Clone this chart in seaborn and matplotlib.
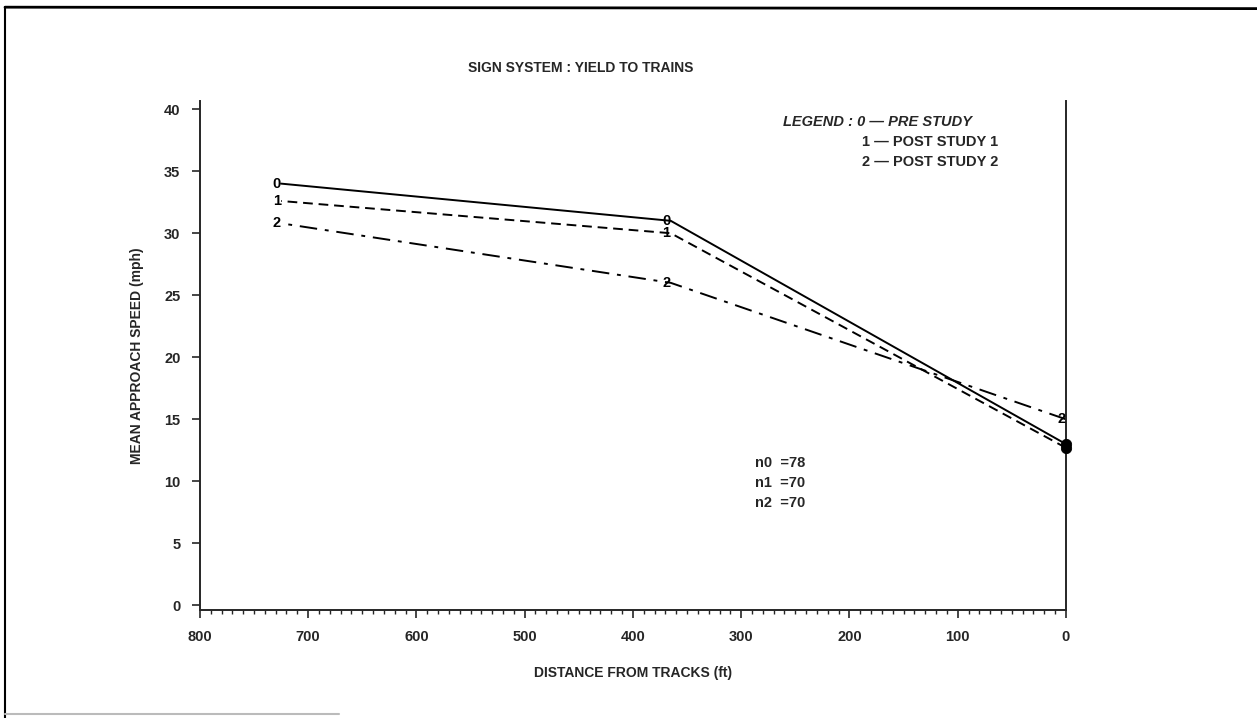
import numpy as np
import pandas as pd
import matplotlib
matplotlib.use("Agg")
import matplotlib.pyplot as plt
from matplotlib.lines import Line2D
from matplotlib.ticker import MultipleLocator
import seaborn as sns

# values
distance = [725, 365, 0]
pre_study = [34.0, 31.0, 13.0]
post_study_1 = [32.6, 30.0, 12.7]
post_study_2 = [30.8, 26.0, 15.0]
group_codes = ['0', '1', '2']
legend_names = ['PRE STUDY', 'POST STUDY 1', 'POST STUDY 2']
sample_sizes = [78, 70, 70]

series = [pre_study, post_study_1, post_study_2]
df = pd.concat([
    pd.DataFrame({'distance': distance, 'speed': vals, 'group': code})
    for code, vals in zip(group_codes, series)
])

sns.set_style("ticks")
plt.rcParams['font.family'] = ['Liberation Sans', 'DejaVu Sans']
plt.rcParams['font.weight'] = 'bold'

fig = plt.figure(figsize=(12.57, 7.18), dpi=100)
ax = fig.add_axes([0.159, 0.150, 0.689, 0.710])

dashes = {'0': '', '1': (5, 3), '2': (9, 4, 2, 4)}
sns.lineplot(data=df, x='distance', y='speed', style='group', dashes=dashes,
             color='black', linewidth=1.4, legend=False, ax=ax)

# point labels used as markers; at the track the "0" and "1" print over
# each other into one black blob, so draw that as a filled mark
for code, vals in zip(group_codes, series):
    for d, v in zip(distance, vals):
        if d == 0 and code in ('0', '1'):
            continue
        ax.text(d + 4, v, code, ha='center', va='center', fontsize=10.5,
                fontweight='bold', color='black')
end = df[(df['distance'] == 0) & (df['group'].isin(['0', '1']))]
sns.scatterplot(data=end, x='distance', y='speed', color='black', s=55,
                marker='o', edgecolor='black', legend=False, ax=ax, clip_on=False,
                zorder=5)

ax.set_xlim(800, 0)
ax.set_ylim(-0.4, 40.7)
ax.xaxis.set_major_locator(MultipleLocator(100))
ax.xaxis.set_minor_locator(MultipleLocator(10))
ax.yaxis.set_major_locator(MultipleLocator(5))
ax.tick_params(axis='both', which='major', length=6, width=1.2, labelsize=10.5, pad=8)
ax.tick_params(axis='x', which='minor', length=3, width=1)
for lab in ax.get_xticklabels() + ax.get_yticklabels():
    lab.set_fontweight('bold')
ax.set_xlabel('DISTANCE FROM TRACKS (ft)', fontsize=10, fontweight='bold', labelpad=16)
ax.set_ylabel('MEAN APPROACH SPEED (mph)', fontsize=10, fontweight='bold', labelpad=14)

for side in ['left', 'bottom', 'right']:
    ax.spines[side].set_linewidth(1.4)
ax.spines['top'].set_visible(False)

fig.text(0.462, 0.905, 'SIGN SYSTEM : YIELD TO TRAINS', ha='center', va='center',
         fontsize=10, fontweight='bold')

# legend block
fig.text(0.623, 0.830, 'LEGEND : ' + group_codes[0] + ' \u2014 ' + legend_names[0],
         fontsize=10.5, fontweight='bold', style='italic', va='center')
for i in [1, 2]:
    fig.text(0.686, 0.830 - 0.028 * i, group_codes[i] + ' \u2014 ' + legend_names[i],
             fontsize=10.5, fontweight='bold', va='center')

# sample sizes
for i, n in enumerate(sample_sizes):
    fig.text(0.601, 0.355 - 0.028 * i, 'n%d  =%d' % (i, n),
             fontsize=10.5, fontweight='bold', va='center')

# scanned page frame
fig.add_artist(Line2D([0.004, 1.0], [0.990, 0.988], color='black', linewidth=2))
fig.add_artist(Line2D([0.004, 0.004], [0.990, 0.0], color='black', linewidth=1.5))
fig.add_artist(Line2D([0.004, 0.27], [0.005, 0.005], color='#bbbbbb', linewidth=1.5))

fig.savefig('out.png', dpi=100)
